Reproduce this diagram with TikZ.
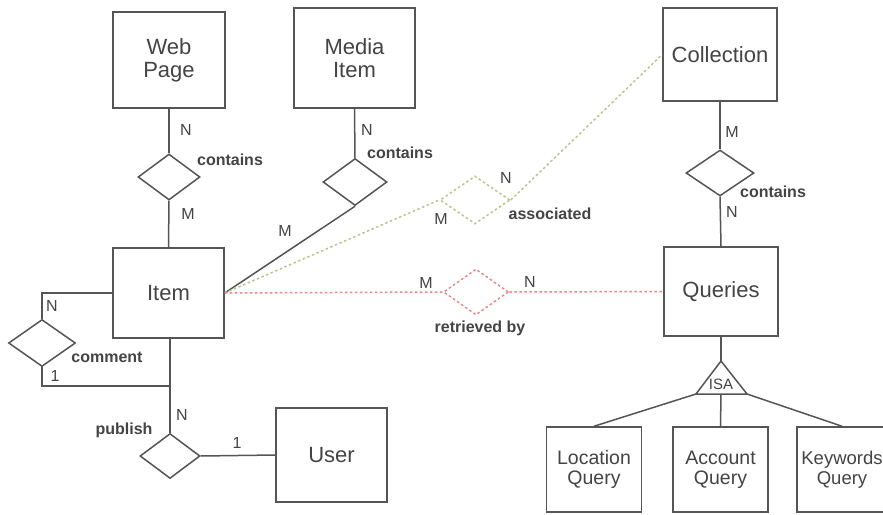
\documentclass[tikz,border=0pt]{standalone}
\usepackage{fontspec}
\setmainfont{Liberation Sans}
\usetikzlibrary{shapes.geometric}
\definecolor{ln}{HTML}{555555}
\definecolor{tx}{HTML}{444444}
\definecolor{grn}{RGB}{190,196,140}
\definecolor{rd}{RGB}{236,135,135}
\tikzset{
  ent/.style={draw=ln, line width=1.5pt, inner sep=0pt, align=center, text=tx,
    font=\fontsize{22}{23}\selectfont},
  subent/.style={ent, minimum width=95pt, minimum height=85pt, font=\fontsize{19.5}{20}\selectfont},
  rel/.style={draw=ln, line width=1.5pt, diamond, inner sep=0pt},
  lnk/.style={draw=ln, line width=1.5pt},
  lab/.style={text=tx, inner sep=0pt, font=\fontsize{16}{18}\selectfont},
  rlab/.style={text=tx, inner sep=0pt, font=\bfseries\fontsize{16}{18}\selectfont},
  gdot/.style={draw=grn, line width=1.5pt, dash pattern=on 2.5pt off 2.5pt},
  rdot/.style={draw=rd, line width=1.5pt, dash pattern=on 2.5pt off 2.5pt},
}
\begin{document}
\begin{tikzpicture}[x=1pt,y=-1pt]
\clip (0,0) rectangle (883,514);
\fill[white] (0,0) rectangle (883,514);
% entities
\node[ent, minimum width=112pt, minimum height=96pt] (web) at (169,60) {Web\\Page};
\node[ent, minimum width=121pt, minimum height=100pt] (media) at (354.5,58) {Media\\Item};
\node[ent, minimum width=114pt, minimum height=93pt] (coll) at (720,54.5) {Collection};
\node[ent, minimum width=111pt, minimum height=90pt] (item) at (168.5,293) {Item};
\node[ent, minimum width=114pt, minimum height=89pt] (que) at (721,291.5) {Queries};
\node[ent, minimum width=111pt, minimum height=94pt] (user) at (331.5,455) {User};
\node[subent] (loc) at (594,469.5) {Location\\Query};
\node[subent] (acc) at (720.5,469.5) {Account\\Query};
\node[subent, minimum width=90pt, font=\fontsize{18.5}{20}\selectfont] (key) at (842,469.5) {Keywords\\Query};
% relationships
\node[rel, minimum width=62pt, minimum height=46pt] (wpd) at (169,177) {};
\node[rel, minimum width=64pt, minimum height=47pt] (mid) at (355,182) {};
\node[rel, minimum width=68pt, minimum height=46pt] (cold) at (720,173) {};
\node[rel, minimum width=67pt, minimum height=47pt] (comd) at (42,343) {};
\node[rel, minimum width=60pt, minimum height=45pt] (pubd) at (170,456) {};
\node[diamond, gdot, inner sep=0pt, minimum width=70pt, minimum height=48pt] (asd) at (475,200) {};
\node[diamond, rdot, inner sep=0pt, minimum width=65pt, minimum height=46pt] (red) at (476,292) {};
% ISA triangle
\coordinate (isaT) at (721,361);
\coordinate (isaL) at (696,394);
\coordinate (isaR) at (747,394);
\coordinate (isaB) at (721,394);
\draw[lnk, line join=miter] (isaT) -- (isaL) -- (isaR) -- cycle;
\node[text=tx, inner sep=0pt, font=\fontsize{15}{16}\selectfont] (isa) at (721,384) {ISA};
% connectors
\draw[lnk] (web.south) -- (wpd.north);
\draw[lnk] (wpd.south) -- (item.north);
\draw[lnk] (media.south) -- (mid.north);
\draw[lnk] (mid.south) -- (item.east);
\draw[lnk] (coll.south) -- (cold.north);
\draw[lnk] (cold.south) -- (que.north);
\draw[gdot] (item.east) -- (asd.west);
\draw[gdot] (asd.east) -- (coll.west);
\draw[rdot] (item.east) -- (red.west);
\draw[rdot] (red.east) -- (que.west);
\coordinate (cj) at (170,386);
\draw[lnk] (item.west) -| (comd.north);
\draw[lnk] (comd.south) |- (cj);
\draw[lnk] (item.south -| cj) -- (pubd.north);
\draw[lnk] (pubd.east) -- (user.west);
\draw[lnk] (que.south) -- (isaT);
\draw[lnk] (isaL) -- (loc.north);
\draw[lnk] (isaB) -- (acc.north);
\draw[lnk] (isaR) -- (key.north);
% labels
\node[lab] (l1) at (186,130) {N};
\node[rlab] (l2) at (230,160) {contains};
\node[lab] (l3) at (188,214) {M};
\node[lab] (l4) at (367,130) {N};
\node[rlab] (l5) at (400,153) {contains};
\node[lab] (l6) at (285,231) {M};
\node[lab] (l7) at (732,132) {M};
\node[rlab] (l8) at (773,192) {contains};
\node[lab] (l9) at (732,212) {N};
\node[lab] (l10) at (506,178) {N};
\node[lab] (l11) at (441,219) {M};
\node[rlab] (l12) at (550,214) {associated};
\node[lab] (l13) at (426,283) {M};
\node[lab] (l14) at (530,282) {N};
\node[rlab] (l15) at (480,328) {retrieved by};
\node[lab] (l16) at (52,306) {N};
\node[rlab] (l17) at (107,357) {comment};
\node[lab] (l18) at (55,376) {1};
\node[lab] (l19) at (182,415) {N};
\node[rlab] (l20) at (124,430) {publish};
\node[lab] (l21) at (237,443) {1};
\end{tikzpicture}
\end{document}
